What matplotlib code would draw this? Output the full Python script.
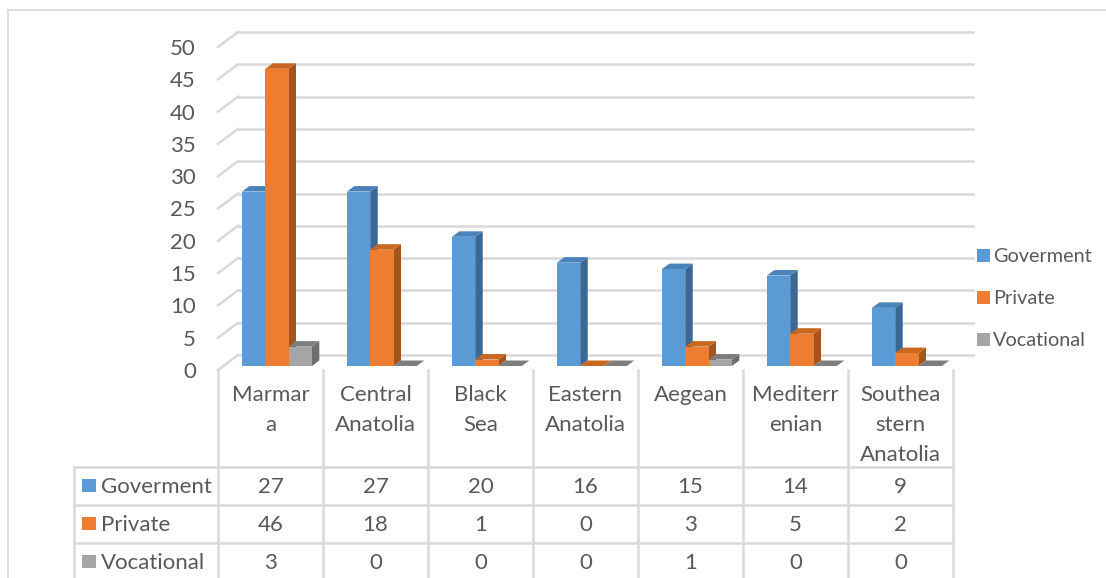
import matplotlib
matplotlib.use("Agg")
import matplotlib.pyplot as plt
from matplotlib.patches import Polygon, Rectangle
from matplotlib.lines import Line2D
from matplotlib.transforms import blended_transform_factory

categories = ["Marmar\na", "Central\nAnatolia", "Black\nSea", "Eastern\nAnatolia",
              "Aegean", "Mediterr\nenian", "Southea\nstern\nAnatolia"]
series_names = ["Goverment", "Private", "Vocational"]
goverment = [27, 27, 20, 16, 15, 14, 9]
private = [46, 18, 1, 0, 3, 5, 2]
vocational = [3, 0, 0, 0, 1, 0, 0]
series_values = [goverment, private, vocational]
yticks = list(range(0, 51, 5))

front_colors = ["#5B9BD5", "#ED7D31", "#A5A5A5"]
side_colors = ["#3A6796", "#A3541F", "#6E6E6E"]
top_colors = ["#4A82BA", "#C9671F", "#7E7E7E"]
text_color = "#595959"
grid_color = "#D9D9D9"

W, H = 1106, 578
fig = plt.figure(figsize=(W / 100, H / 100), dpi=100)
FONT = "Lato"
FS = 16

def fy(py):
    return 1 - py / H

def fx(px):
    return px / W

# axes front plane: x 218..953, y value 0 at 370, 50 at 47
ax_left, ax_right, y_zero, y_top = 218, 953, 370, 47
ax = fig.add_axes([fx(ax_left), fy(y_zero), fx(ax_right - ax_left), (y_zero - y_top) / H])
n = len(categories)
ax.set_xlim(0, n)
ax.set_ylim(0, 50)
ax.patch.set_visible(False)
for s in ax.spines.values():
    s.set_visible(False)
ax.set_xticks([])
ax.set_yticks(yticks)
ax.set_yticklabels([str(t) for t in yticks], fontsize=FS, color=text_color, family=FONT)
ax.tick_params(axis="y", length=0, pad=16)

xu = (ax_right - ax_left) / n       # px per category
yu = (y_zero - y_top) / 50.0        # px per value unit

# depth offsets (px -> data)
wall_dx, wall_dy = 20 / xu, 15 / yu
bar_off_dx, bar_off_dy = 5 / xu, 4 / yu
bar_d_dx, bar_d_dy = 7.5 / xu, 5.5 / yu

# back wall gridlines + left wall diagonals
for t in yticks:
    ax.add_line(Line2D([wall_dx, n + wall_dx], [t + wall_dy, t + wall_dy],
                       color=grid_color, lw=1.8, zorder=1, clip_on=False))
    ax.add_line(Line2D([0, wall_dx], [t, t + wall_dy],
                       color=grid_color, lw=1.8, zorder=1, clip_on=False))

# bars
bw = 0.222
start = 0.18
for i in range(n):
    for j, vals in enumerate(series_values):
        v = vals[i]
        x0 = i + start + j * bw + bar_off_dx
        x1 = x0 + bw
        y0 = bar_off_dy
        y1 = v + bar_off_dy
        z = 3 + i * 3 + j
        ax.add_patch(Polygon([[x1, y0], [x1, y1], [x1 + bar_d_dx, y1 + bar_d_dy],
                              [x1 + bar_d_dx, y0 + bar_d_dy]], closed=True,
                             facecolor=side_colors[j], edgecolor="none", zorder=z, clip_on=False))
        ax.add_patch(Polygon([[x0, y1], [x1, y1], [x1 + bar_d_dx, y1 + bar_d_dy],
                              [x0 + bar_d_dx, y1 + bar_d_dy]], closed=True,
                             facecolor=top_colors[j], edgecolor="none", zorder=z, clip_on=False))
        if v > 0:
            ax.add_patch(Rectangle((x0, y0), bw, v, facecolor=front_colors[j],
                                   edgecolor="none", zorder=z + 0.5, clip_on=False))

# data table
tline = dict(color=grid_color, lw=1.8, transform=fig.transFigure, zorder=0)
row_tops = [467, 505, 543, 581]
tab_left = 74
for k in range(n + 1):
    xk = fx(ax_left + k * xu)
    fig.add_artist(Line2D([xk, xk], [fy(370), fy(H + 5)], **tline))
fig.add_artist(Line2D([fx(tab_left), fx(tab_left)], [fy(467), fy(H + 5)], **tline))
for r in row_tops[:3]:
    fig.add_artist(Line2D([fx(tab_left), fx(ax_right)], [fy(r), fy(r)], **tline))

trans_cat = blended_transform_factory(ax.transData, fig.transFigure)
for i, c in enumerate(categories):
    ax.text(i + 0.5, fy(385), c, transform=trans_cat, ha="center", va="top",
            fontsize=FS, color=text_color, family=FONT, linespacing=1.63, clip_on=False)

for r, (name, vals) in enumerate(zip(series_names, series_values)):
    yc = (row_tops[r] + row_tops[r + 1]) / 2 - 1
    fig.add_artist(Rectangle((fx(82), fy(yc + 6.5)), fx(13.5), 13 / H,
                             facecolor=front_colors[r], edgecolor="none", transform=fig.transFigure))
    fig.text(fx(101), fy(yc), name, ha="left", va="center_baseline", fontsize=FS,
             color=text_color, family=FONT)
    for i, v in enumerate(vals):
        ax.text(i + 0.5, fy(yc), str(v), transform=trans_cat, ha="center",
                va="center_baseline", fontsize=FS, color=text_color, family=FONT, clip_on=False)

# legend
for r, name in enumerate(series_names):
    yc = 255 + 42 * r
    fig.add_artist(Rectangle((fx(977), fy(yc + 6.5)), fx(13), 13 / H,
                             facecolor=front_colors[r], edgecolor="none", transform=fig.transFigure))
    fig.text(fx(993), fy(yc), name, ha="left", va="center_baseline", fontsize=14.3,
             color=text_color, family=FONT)

# chart border
fig.add_artist(Line2D([fx(8), fx(W + 5)], [fy(10), fy(10)], color=grid_color, lw=1.2,
                      transform=fig.transFigure))
fig.add_artist(Line2D([fx(8), fx(8)], [fy(10), fy(H + 5)], color=grid_color, lw=1.2,
                      transform=fig.transFigure))

fig.savefig("out.png", dpi=100)
